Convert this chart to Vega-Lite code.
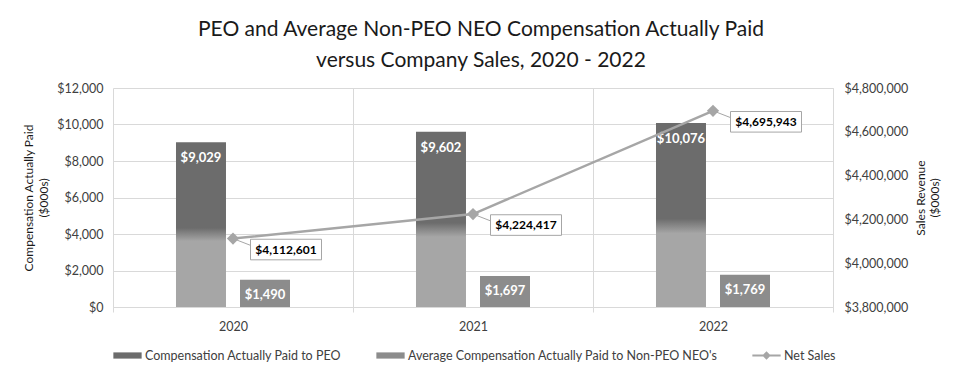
{
  "$schema": "https://vega.github.io/schema/vega-lite/v6.json",
  "width": 720,
  "height": 219,
  "autosize": {"type": "none"},
  "padding": {"left": 113, "top": 88, "right": 130, "bottom": 69},
  "background": "white",
  "config": {"font": "Lato", "view": {"stroke": null}},
  "title": {
    "text": ["PEO and Average Non-PEO NEO Compensation Actually Paid", "versus Company Sales, 2020 - 2022"],
    "fontSize": 21,
    "fontWeight": "normal",
    "color": "#1a1a1a",
    "lineHeight": 31,
    "offset": 11,
    "dx": 8,
    "anchor": "middle"
  },
  "datasets": {
    "bars": [
      {"year": "2020", "series": "Compensation Actually Paid to PEO", "value": 9029},
      {"year": "2020", "series": "Average Compensation Actually Paid to Non-PEO NEO's", "value": 1490},
      {"year": "2021", "series": "Compensation Actually Paid to PEO", "value": 9602},
      {"year": "2021", "series": "Average Compensation Actually Paid to Non-PEO NEO's", "value": 1697},
      {"year": "2022", "series": "Compensation Actually Paid to PEO", "value": 10076},
      {"year": "2022", "series": "Average Compensation Actually Paid to Non-PEO NEO's", "value": 1769}
    ],
    "sales": [
      {"year": "2020", "series": "Net Sales", "sales": 4112601},
      {"year": "2021", "series": "Net Sales", "sales": 4224417},
      {"year": "2022", "series": "Net Sales", "sales": 4695943}
    ]
  },
  "layer": [
    {
      "data": {"name": "bars"},
      "encoding": {
        "x": {
          "field": "year",
          "type": "ordinal",
          "scale": {"paddingInner": 0, "paddingOuter": 0},
          "axis": {
            "title": null,
            "labelAngle": 0,
            "labelFontSize": 12.5,
            "labelColor": "#404040",
            "labelPadding": 8,
            "tickBand": "extent",
            "ticks": true,
            "tickSize": 5,
            "tickColor": "#d9d9d9",
            "grid": true,
            "gridColor": "#d9d9d9",
            "domainColor": "#d9d9d9"
          }
        },
        "xOffset": {
          "field": "series",
          "type": "nominal",
          "sort": ["Compensation Actually Paid to PEO", "Average Compensation Actually Paid to Non-PEO NEO's"],
          "scale": {"paddingInner": 0.219, "paddingOuter": 0.984}
        },
        "y": {
          "field": "value",
          "type": "quantitative",
          "scale": {"domain": [0, 12000]},
          "axis": {
            "orient": "left",
            "values": [0, 2000, 4000, 6000, 8000, 10000, 12000],
            "format": "$,.0f",
            "title": ["Compensation Actually Paid", "($000s)"],
            "titleFontSize": 12,
            "titleFontWeight": "normal",
            "titleColor": "#1a1a1a",
            "titleLineHeight": 15,
            "titlePadding": 6,
            "labelFontSize": 12.5,
            "labelColor": "#404040",
            "labelPadding": 10,
            "ticks": false,
            "domain": false,
            "grid": true,
            "gridColor": "#d9d9d9"
          }
        }
      },
      "layer": [
        {
          "mark": {"type": "bar"},
          "encoding": {
            "color": {
              "condition": {
                "test": "datum.series === 'Compensation Actually Paid to PEO'",
                "value": {
                  "gradient": "linear",
                  "x1": 0, "y1": 0, "x2": 0, "y2": 1,
                  "stops": [
                    {"offset": 0, "color": "#6c6c6c"},
                    {"offset": 0.52, "color": "#6c6c6c"},
                    {"offset": 0.6, "color": "#a6a6a6"},
                    {"offset": 1, "color": "#a6a6a6"}
                  ]
                }
              },
              "field": "series",
              "type": "nominal",
              "scale": {
                "domain": ["Compensation Actually Paid to PEO", "Average Compensation Actually Paid to Non-PEO NEO's", "Net Sales"],
                "range": ["#6c6c6c", "#8c8c8c", "#a6a6a6"]
              },
              "legend": {
                "title": null,
                "orient": "bottom",
                "direction": "horizontal",
                "offset": 8,
                "labelFontSize": 12.5,
                "labelColor": "#404040",
                "labelOffset": 3,
                "labelLimit": 0,
                "columnPadding": 34,
                "symbolSize": 800,
                "symbolType": "M-1,-0.22H1V0.22H-1Z",
                "encode": {
                  "symbols": {
                    "update": {
                      "shape": {"signal": "datum.value === 'Net Sales' ? 'M-1,-0.07H1V0.07H-1Z M0,-0.3L0.3,0L0,0.3L-0.3,0Z' : 'M-1,-0.22H1V0.22H-1Z'"},
                      "fill": {"signal": "scale('color', datum.value)"},
                      "stroke": {"value": null},
                      "strokeWidth": {"value": 0},
                      "opacity": {"value": 1}
                    }
                  }
                }
              }
            }
          }
        },
        {
          "transform": [{"filter": "datum.series === 'Compensation Actually Paid to PEO'"}],
          "mark": {"type": "text", "color": "white", "fontSize": 13, "fontWeight": "bold", "baseline": "middle", "dy": 16},
          "encoding": {"text": {"field": "value", "type": "quantitative", "format": "$,"}}
        },
        {
          "transform": [{"filter": "datum.series !== 'Compensation Actually Paid to PEO'"}],
          "mark": {"type": "text", "color": "white", "fontSize": 13, "fontWeight": "bold", "baseline": "middle", "dy": 15},
          "encoding": {"text": {"field": "value", "type": "quantitative", "format": "$,"}}
        }
      ]
    },
    {
      "data": {"name": "sales"},
      "encoding": {
        "x": {"field": "year", "type": "ordinal"},
        "y": {
          "field": "sales",
          "type": "quantitative",
          "scale": {"domain": [3800000, 4800000]},
          "axis": {
            "orient": "right",
            "values": [3800000, 4000000, 4200000, 4400000, 4600000, 4800000],
            "format": "$,.0f",
            "title": ["Sales Revenue", "($000s)"],
            "titleAngle": -90,
            "titleFontSize": 12,
            "titleFontWeight": "normal",
            "titleColor": "#1a1a1a",
            "titleLineHeight": 14,
            "titlePadding": 6,
            "labelFontSize": 12.5,
            "labelColor": "#404040",
            "labelPadding": 11,
            "ticks": false,
            "domain": true,
            "domainColor": "#d9d9d9",
            "grid": false
          }
        }
      },
      "layer": [
        {"mark": {"type": "line", "color": "#a6a6a6", "strokeWidth": 2.5}},
        {"mark": {"type": "point", "shape": "diamond", "filled": true, "size": 150, "color": "#a6a6a6", "opacity": 1}},
        {
          "mark": {"type": "rule", "color": "#a6a6a6", "strokeWidth": 1, "x2Offset": 18, "y2Offset": 7},
          "encoding": {"x2": {"field": "year"}, "y2": {"field": "sales"}}
        },
        {
          "mark": {"type": "point", "shape": "M-1,-0.29H1V0.29H-1Z", "size": 5041, "filled": true, "fill": "white", "stroke": "#a6a6a6", "strokeWidth": 1, "opacity": 1, "xOffset": 53, "yOffset": 11}
        },
        {
          "mark": {"type": "text", "color": "#000000", "fontSize": 12, "fontWeight": "bold", "dx": 53, "dy": 11, "baseline": "middle"},
          "encoding": {"text": {"field": "sales", "type": "quantitative", "format": "$,"}}
        }
      ]
    }
  ],
  "resolve": {"scale": {"y": "independent"}}
}
